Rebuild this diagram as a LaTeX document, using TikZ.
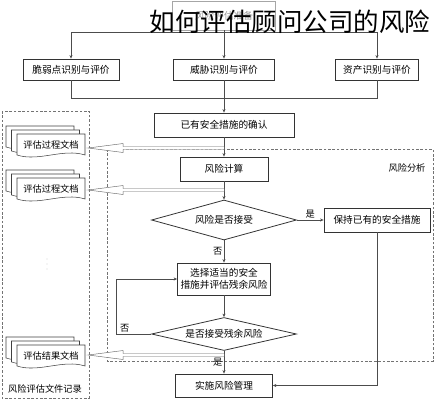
\documentclass[tikz,border=0pt]{standalone}
\usepackage{fontspec}
\setmainfont{Noto Sans CJK SC}
\usetikzlibrary{shapes.geometric,arrows.meta,calc}

\tikzset{
  line/.style={draw=black!70, line width=0.6pt},
  arrow/.style={line, -{Stealth[length=4pt,width=3.5pt]}},
  box/.style={draw=black!80, line width=0.9pt, fill=white, inner sep=1pt, align=center,
    font=\fontsize{11pt}{14pt}\selectfont},
  decide/.style={box, diamond, inner sep=0pt},
  region/.style={draw=black!55, line width=0.6pt, dash pattern=on 3pt off 2pt},
  sheet/.style={draw=black!75, line width=0.6pt, fill=white},
  fat/.style={draw=black!60, line width=0.5pt, fill=white},
  lbl/.style={font=\fontsize{10.5pt}{12pt}\selectfont, inner sep=1.5pt},
  doctext/.style={font=\fontsize{10.5pt}{12pt}\selectfont, inner sep=0pt, minimum width=27.2mm}
}

% hollow double-line arrow from a point on the flow to a document stack
\newcommand{\fatarrow}[2]{%
  \draw[fat] ($(#1)+(0,-1.5)$) -- ($(#2.east |- #1)+(38,-1.5)$) -- ++(0,-3)
    -- ($(#2.east |- #1)+(3,0)$) -- ($(#2.east |- #1)+(38,4.5)$) -- ++(0,-3)
    -- ($(#1)+(0,1.5)$);}

\begin{document}
\begin{tikzpicture}[x=0.4mm, y=-0.4mm]
\useasboundingbox (0,0) rectangle (435,400);

% Regions
\draw[region] (2,111) rectangle (89,398);
\draw[region] (107,149) rectangle (433,361);
\node[lbl] (analysis) at (407,168) {风险分析};
\node[lbl] (record) at (45,389) {风险评估文件记录};

% Identification
\node[box, draw=black!35, text=black!40, minimum width=41.2mm, minimum height=11.6mm] (prep) at (224,15.5) {风险评估准备};
\node[box, minimum width=38.4mm, minimum height=8.4mm] (vul) at (71,69.5) {脆弱点识别与评价};
\node[box, minimum width=40.4mm, minimum height=8.4mm] (threat) at (224,69.5) {威胁识别与评价};
\node[box, minimum width=33.2mm, minimum height=8.4mm] (asset) at (377,69.5) {资产识别与评价};

% Analysis
\node[box, minimum width=56mm, minimum height=9.6mm] (confirm) at (224,125) {已有安全措施的确认};
\node[box, minimum width=35.2mm, minimum height=9.6mm] (calc) at (224,169) {风险计算};
\node[decide, aspect=3.6, minimum width=58mm, minimum height=16mm] (judge) at (224,220) {风险是否接受};
\node[box, minimum width=42.4mm, minimum height=9.6mm] (keep) at (377,220) {保持已有的安全措施};
\node[box, minimum width=37.2mm, minimum height=12.8mm] (select) at (224,279) {选择适当的安全\\措施并评估残余风险};
\node[decide, aspect=4.4, minimum width=58mm, minimum height=13.2mm] (judge2) at (224,334) {是否接受残余风险};
\node[box, minimum width=38.8mm, minimum height=9.2mm] (impl) at (224,385.5) {实施风险管理};

% Split and merge
\coordinate (split) at (224,32);
\coordinate (merge) at (224,98);
\draw[arrow] (prep.south) -- (threat.north);
\draw[arrow] (split) -| (vul.north);
\draw[arrow] (split) -| (asset.north);
\draw[line] (vul.south) |- (merge);
\draw[line] (asset.south) |- (merge);
\draw[arrow] (threat.south) -- (confirm.north);

% Main flow
\draw[arrow] (confirm) -- (calc);
\draw[arrow] (calc) -- (judge);
\draw[arrow] (judge) -- node[lbl, above] {是} (keep);
\draw[arrow] (judge) -- node[lbl, left] {否} (select);
\draw[arrow] (select) -- (judge2);
\draw[arrow] (judge2) -- node[lbl, left] {是} (impl);
\draw[arrow] (judge2.west) -- node[lbl, above, pos=0.75] {否} ++(-35,0) |- (select.west);
\draw[arrow] (keep.south) |- (impl.east);

% Document stacks
\foreach \n/\y/\txt in {1/145/评估过程文档, 2/189/评估过程文档, 3/356/评估结果文档} {
  \foreach \d in {2,1,0}
    \draw[sheet] (17-5.5*\d,\y-11-4*\d) -- ++(68,0) -- ++(0,21)
      .. controls +(-22,-7) and +(22,7) .. ++(-68,0) -- cycle;
  \node[doctext] (doc\n) at (51,\y) {\txt};
}
\foreach \y in {259,264,269}
  \fill[black!50] (47,\y) circle (0.45pt);

% Records
\coordinate (f1) at (224,148);
\coordinate (f2) at (224,190);
\coordinate (f3) at (224,355);
\fatarrow{f1}{doc1}
\fatarrow{f2}{doc2}
\fatarrow{f3}{doc3}

% Title
\node[font=\fontsize{29pt}{30pt}\selectfont, inner sep=0pt] (title) at (290,22) {如何评估顾问公司的风险};
\end{tikzpicture}
\end{document}
